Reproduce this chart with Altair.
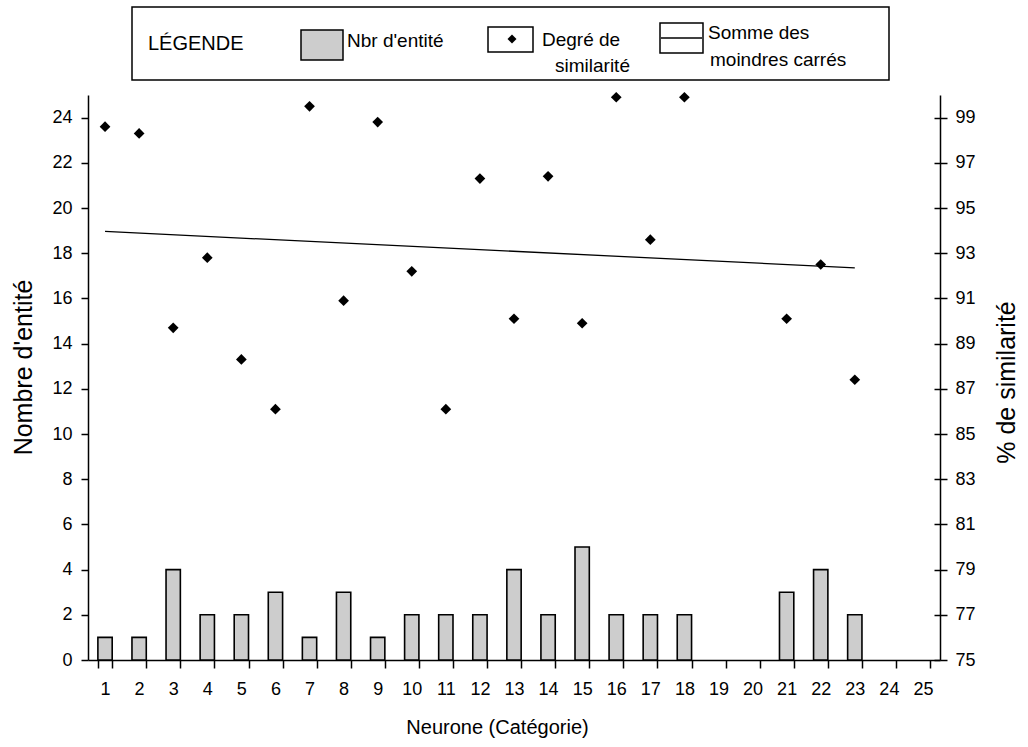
import altair as alt
import pandas as pd

# ---- data ----
NEURONES = list(range(1, 26))
NBR_ENTITE = [1, 1, 4, 2, 2, 3, 1, 3, 1, 2, 2, 2, 4, 2, 5, 2, 2, 2, 0, 0, 3, 4, 2, 0, 0]

SIM_NEURONES = [1, 2, 3, 4, 5, 6, 7, 8, 9, 10, 11, 12, 13, 14, 15, 16, 17, 18, 21, 22, 23]
SIM_VALUES = [98.6, 98.3, 89.7, 92.8, 88.3, 86.1, 99.5, 90.9, 98.8, 92.2, 86.1,
              96.3, 90.1, 96.4, 89.9, 99.9, 93.6, 99.9, 90.1, 92.5, 87.4]

LEFT_TICKS = [0, 2, 4, 6, 8, 10, 12, 14, 16, 18, 20, 22, 24]
RIGHT_TICKS = [75, 77, 79, 81, 83, 85, 87, 89, 91, 93, 95, 97, 99]

TITLE_X = "Neurone (Catégorie)"
TITLE_LEFT = "Nombre d'entité"
TITLE_RIGHT = "% de similarité"
LEGEND_TITLE = "LÉGENDE"
LEGEND_BAR = "Nbr d'entité"
LEGEND_PT = ["Degré de", "similarité"]
LEGEND_LINE = ["Somme des", "moindres carrés"]

FONT = "Liberation Sans"
BAR_FILL = "#cdcdcd"
PLOT_W, PLOT_H = 852, 565

df_bars = pd.DataFrame({"neurone": NEURONES, "nbr": NBR_ENTITE})
df_sim = pd.DataFrame({"neurone": SIM_NEURONES, "pct": SIM_VALUES})
one = pd.DataFrame({"a": [0]})

bars = alt.Chart(df_bars).transform_filter("datum.nbr > 0").mark_bar(
    fill=BAR_FILL, stroke="black", strokeWidth=1.6
).encode(
    x=alt.X("neurone:O",
            scale=alt.Scale(domain=NEURONES, paddingInner=0.58, paddingOuter=0.29),
            axis=alt.Axis(title=TITLE_X, labelAngle=0, tickBand="extent", tickSize=8,
                          labelPadding=12, titleFontSize=20, titleX=409, titleY=73,
                          titleBaseline="alphabetic")),
    y=alt.Y("nbr:Q", scale=alt.Scale(domain=[0, 25], nice=False),
            axis=alt.Axis(values=LEFT_TICKS, title=TITLE_LEFT, tickSize=7, labelPadding=9,
                          titleFontSize=25, titleX=-65, titleY=272, titleAngle=270,
                          titleBaseline="middle")),
)

x_sim = alt.X("neurone:Q", scale=alt.Scale(domain=[0.5, 25.5], nice=False, zero=False), axis=None)
y_sim = alt.Y("pct:Q", scale=alt.Scale(domain=[75, 100], nice=False, zero=False),
              axis=alt.Axis(orient="right", values=RIGHT_TICKS, title=TITLE_RIGHT, tickSize=7,
                            labelPadding=8, titleFontSize=25, titleX=66, titleY=287,
                            titleAngle=270, titleBaseline="middle"))

points = alt.Chart(df_sim).mark_point(
    shape="diamond", filled=True, color="black", size=115, opacity=1
).encode(x=x_sim, y=y_sim)

trend = alt.Chart(df_sim).transform_regression(
    "neurone", "pct", extent=[1, 23]
).mark_line(color="black", strokeWidth=1.3).encode(x=x_sim, y=y_sim)

inner = alt.layer(points, trend)

# inward half of the crossing ticks on the right axis (an invisible layer carrying an axis)
inward = alt.Chart(df_sim).mark_point(opacity=0).encode(
    y=alt.Y("pct:Q", scale=alt.Scale(domain=[75, 100], nice=False, zero=False),
            axis=alt.Axis(orient="left", offset=-PLOT_W, values=RIGHT_TICKS, labels=False,
                          domain=False, tickSize=6, title=""))
)

# ---- custom legend box above the plot ----
def txt(label, x, y, size=19):
    return alt.Chart(one).mark_text(
        align="left", baseline="middle", font=FONT, fontSize=size, color="black"
    ).encode(x=alt.value(x), y=alt.value(y), text=alt.value(label))

def box(x1, x2, y1, y2, fill="white", sw=1.5):
    return alt.Chart(one).mark_rect(fill=fill, stroke="black", strokeWidth=sw).encode(
        x=alt.value(x1), x2=alt.value(x2), y=alt.value(y1), y2=alt.value(y2))

legend = [
    box(44, 801, -88, -15),
    txt(LEGEND_TITLE, 60, -51, size=20),
    box(213, 255, -65, -35, fill=BAR_FILL, sw=1.5),
    txt(LEGEND_BAR, 259, -54),
    box(400, 445, -68, -43),
    alt.Chart(one).mark_point(shape="diamond", filled=True, color="black", size=80, opacity=1)
       .encode(x=alt.value(424), y=alt.value(-56)),
    txt(LEGEND_PT[0], 454, -55),
    txt(LEGEND_PT[1], 467, -29),
    box(572, 615, -72, -42),
    alt.Chart(one).mark_rule(color="black", strokeWidth=1.3)
       .encode(x=alt.value(573), x2=alt.value(614), y=alt.value(-57)),
    txt(LEGEND_LINE[0], 620, -62),
    txt(LEGEND_LINE[1], 622, -35),
]

chart = alt.layer(bars, inner, inward, *legend).resolve_scale(
    x="independent", y="independent"
).properties(
    width=PLOT_W, height=PLOT_H,
    autosize=alt.AutoSizeParams(type="none"),
    padding={"left": 88, "top": 95, "right": 88, "bottom": 87},
    background="white",
).configure_view(
    strokeWidth=0
).configure_axis(
    grid=False, domainColor="black", domainWidth=1.5, tickColor="black", tickWidth=1.5,
    labelColor="black", titleColor="black", labelFont=FONT, titleFont=FONT,
    labelFontSize=18, titleFontWeight="normal",
)

chart.save("out.html", embed_options={"renderer": "svg", "actions": False})
